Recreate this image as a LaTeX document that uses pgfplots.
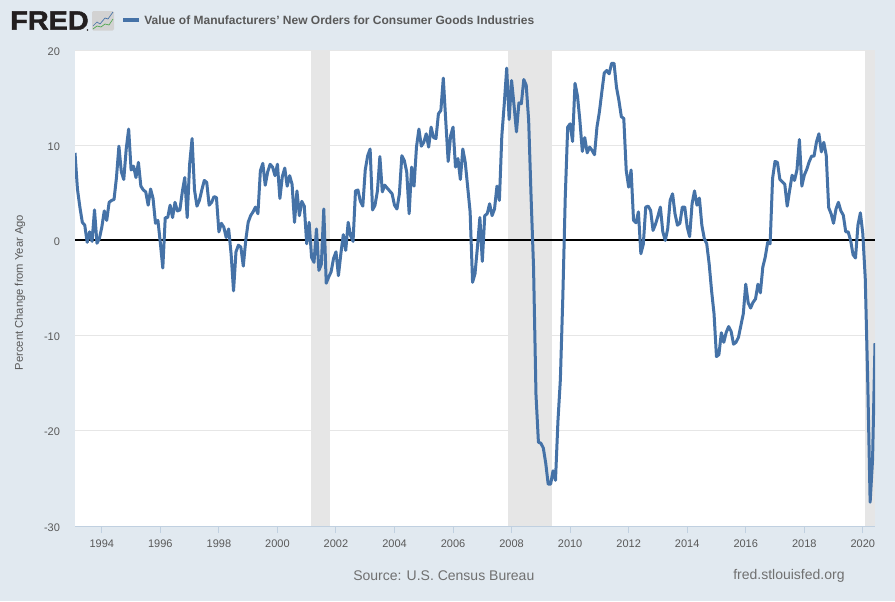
\documentclass[border=0pt]{standalone}
\usepackage{pgfplots}
\pgfplotsset{compat=1.18}
\usepackage{fontspec}
\setmainfont{Liberation Sans}
\newfontfamily\fredlogofont[FakeBold=1.6]{Liberation Sans Bold}
\definecolor{fredbg}{HTML}{E1E9F0}
\definecolor{fredline}{HTML}{4572A7}
\definecolor{fredtext}{HTML}{595959}
\definecolor{fredsrc}{HTML}{707070}
\definecolor{fredaxis}{HTML}{C0D0E0}
\definecolor{fredgrid}{HTML}{E6E6E6}
\definecolor{fredlogo}{HTML}{231F20}
\begin{document}
% 1 unit = 1 pixel of the 895x601 reference, y runs downwards
\begin{tikzpicture}[x=0.75pt,y=-0.75pt]
\fill[fredbg] (0,0) rectangle (895,601);
\coordinate (plotorigin) at (75,526);
\begin{axis}[
  at={(plotorigin)}, anchor=south west,
  scale only axis, width=600pt, height=357pt,
  xmin=0, xmax=328, ymin=-30, ymax=20,
  axis background/.style={fill=white},
  axis lines=left,
  x axis line style={draw=fredaxis,line width=0.75pt,-},
  y axis line style={draw=none},
  tick align=outside, major tick length=5.25pt,
  xtick style={draw=fredaxis,line width=0.75pt},
  ytick style={draw=none},
  xtick={11,35,59,83,107,131,155,179,203,227,251,275,299,323},
  xticklabels={1994,1996,1998,2000,2002,2004,2006,2008,2010,2012,2014,2016,2018,2020},
  ytick={-30,-20,-10,0,10,20},
  yticklabels={-30,-20,-10,0,10,20},
  ymajorgrids, major grid style={draw=fredgrid,line width=0.75pt},
  tick label style={font=\fontsize{8.25}{10}\selectfont,text=fredtext},
  x tick label style={yshift=-1.25pt},
  y tick label style={xshift=-2.5pt,yshift=-0.9pt},
]
% recessions
\addplot[fill=fredgrid,draw=none] coordinates {(96.6,-30)(96.6,20)(104.6,20)(104.6,-30)} --cycle;
\addplot[fill=fredgrid,draw=none] coordinates {(177.6,-30)(177.6,20)(195.6,20)(195.6,-30)} --cycle;
\addplot[fill=fredgrid,draw=none] coordinates {(323.8,-30)(323.8,20)(328,20)(328,-30)} --cycle;
% zero line
\addplot[black,line width=1.6pt] coordinates {(0,0)(328,0)};
% percent change from year ago, month by month from Feb 1993
\addplot[fredline,line width=2.25pt,line join=round] coordinates {
(0,9.2)(1,5.4)(2,3.5)(3,1.9)(4,1.6)(5,-0.2)(6,0.9)(7,-0.1)(8,3.2)(9,-0.3)(10,0.2)(11,1.4)
(12,3.1)(13,2.1)(14,4.0)(15,4.2)(16,4.3)(17,6.6)(18,9.9)(19,7.2)(20,6.4)(21,9.6)(22,11.7)(23,7.4)
(24,7.8)(25,6.6)(26,8.2)(27,5.7)(28,5.3)(29,5.1)(30,3.7)(31,5.4)(32,4.4)(33,1.8)(34,2.1)(35,-0.3)
(36,-2.9)(37,2.4)(38,2.4)(39,3.7)(40,2.4)(41,4.0)(42,3.1)(43,3.2)(44,5.1)(45,6.6)(46,2.4)(47,8.0)
(48,10.7)(49,5.3)(50,3.6)(51,4.2)(52,5.3)(53,6.3)(54,6.1)(55,3.7)(56,4.0)(57,4.6)(58,4.5)(59,0.9)
(60,1.8)(61,1.4)(62,0.3)(63,1.2)(64,-1.4)(65,-5.3)(66,-1.2)(67,-0.5)(68,-0.7)(69,-2.7)(70,0)(71,1.9)
(72,2.6)(73,3.0)(74,3.5)(75,2.8)(76,7.3)(77,8.1)(78,5.8)(79,7.2)(80,8.0)(81,7.7)(82,6.8)(83,8.0)
(84,4.4)(85,6.7)(86,7.6)(87,5.7)(88,6.8)(89,5.9)(90,1.9)(91,5.2)(92,2.6)(93,4.1)(94,3.6)(95,-0.35)
(96,1.9)(97,-1.8)(98,-2.3)(99,1.2)(100,-3.15)(101,-2.5)(102,3.3)(103,-4.5)(104,-3.85)(105,-3.3)(106,-1.9)(107,-1.2)
(108,-3.7)(109,-1.4)(110,0.6)(111,-1.05)(112,1.9)(113,0.5)(114,-0.1)(115,5.2)(116,5.3)(117,4.1)(118,3.6)(119,7.4)
(120,8.9)(121,9.6)(122,3.2)(123,3.7)(124,5.2)(125,8.8)(126,5.1)(127,5.8)(128,5.5)(129,5.2)(130,4.9)(131,3.7)
(132,3.3)(133,4.9)(134,8.9)(135,8.4)(136,7.2)(137,2.8)(138,7.7)(139,5.7)(140,9.8)(141,11.7)(142,9.9)(143,10.3)
(144,11.2)(145,9.8)(146,11.9)(147,10.8)(148,10.7)(149,13.3)(150,13.65)(151,17.05)(152,12.6)(153,8.3)(154,11.0)(155,11.9)
(156,7.7)(157,8.6)(158,6.4)(159,9.6)(160,8.2)(161,5.6)(162,3.0)(163,-4.4)(164,-3.5)(165,-0.7)(166,2.4)(167,-2.2)
(168,2.6)(169,2.8)(170,3.85)(171,2.6)(172,3.3)(173,5.7)(174,4.2)(175,11.0)(176,14.35)(177,18.1)(178,12.7)(179,16.8)
(180,14.2)(181,11.4)(182,14.45)(183,14.35)(184,16.9)(185,16.3)(186,12.6)(187,4.5)(188,-2.8)(189,-16.2)(190,-21.2)(191,-21.3)
(192,-21.8)(193,-23.4)(194,-25.6)(195,-25.6)(196,-24.2)(197,-25.2)(198,-19.0)(199,-14.6)(200,-6.0)(201,4.5)(202,11.9)(203,12.25)
(204,10.4)(205,16.5)(206,15.2)(207,12.6)(208,9.35)(209,10.8)(210,9.2)(211,9.8)(212,9.45)(213,9.0)(214,11.9)(215,13.5)
(216,15.6)(217,17.6)(218,17.85)(219,17.5)(220,18.6)(221,18.6)(222,16.1)(223,14.7)(224,13.0)(225,12.8)(226,7.35)(227,5.6)
(228,7.4)(229,2.1)(230,1.85)(231,3.0)(232,-1.4)(233,-0.4)(234,3.5)(235,3.6)(236,3.15)(237,1.05)(238,1.7)(239,2.55)
(240,3.5)(241,0.9)(242,0)(243,1.2)(244,4.2)(245,4.9)(246,2.8)(247,1.6)(248,1.8)(249,3.5)(250,3.5)(251,1.4)
(252,0.4)(253,3.85)(254,5.2)(255,3.7)(256,4.45)(257,1.6)(258,0.2)(259,-0.35)(260,-2.45)(261,-5.3)(262,-7.7)(263,-12.2)
(264,-12.0)(265,-9.7)(266,-10.7)(267,-9.65)(268,-9.05)(269,-9.55)(270,-10.9)(271,-10.7)(272,-10.2)(273,-8.95)(274,-7.7)(275,-4.6)
(276,-6.55)(277,-7.1)(278,-6.5)(279,-6.15)(280,-4.6)(281,-5.5)(282,-2.8)(283,-1.75)(284,-0.2)(285,-0.35)(286,6.5)(287,8.3)
(288,8.2)(289,6.4)(290,6.15)(291,5.9)(292,3.6)(293,5.25)(294,6.85)(295,6.3)(296,7.4)(297,10.6)(298,5.7)(299,6.85)
(300,7.45)(301,8.25)(302,8.85)(303,8.85)(304,10.35)(305,11.2)(306,9.3)(307,10.3)(308,8.95)(309,3.45)(310,2.8)(311,1.8)
(312,3.3)(313,4.0)(314,3.1)(315,2.65)(316,0.9)(317,0.9)(318,0)(319,-1.5)(320,-1.85)(321,1.6)(322,2.9)(323,0.7)
(324,-4.0)(325,-14.6)(326,-27.5)(327,-23.0)(328,-10.8)
};
\end{axis}
% y axis title
\node[rotate=90,text=fredtext,font=\fontsize{8.4}{10}\selectfont] at (20,292.5) {Percent Change from Year Ago};
% header
\node[anchor=west,inner sep=0pt,text=fredlogo,font=\fredlogofont\fontsize{20}{22}\selectfont,xscale=1.08] at (10,20.5) {FRED};
\fill[fredlogo] (87.5,30) circle (0.8);
\fill[gray!35,rounded corners=1pt] (92,11) rectangle (114,30.5);
\draw[fredline,line width=0.5pt] (93,26) -- (97,22) -- (100,24) -- (105,18) -- (108,19) -- (113,12);
\draw[green!50!black!70,line width=0.5pt] (93,29) -- (97,26) -- (101,27) -- (105,24) -- (109,25) -- (113,19);
\draw[fredline,line width=2.6pt] (123,20) -- (139,20);
\node[anchor=west,inner sep=0pt,text=fredtext,font=\bfseries\fontsize{9}{11}\selectfont] at (144,20) {Value of Manufacturers' New Orders for Consumer Goods Industries};
% footer
\node[anchor=west,inner sep=0pt,text=fredsrc,font=\fontsize{10.5}{12}\selectfont] at (353,576) {Source: U.S. Census Bureau};
\node[anchor=west,inner sep=0pt,text=fredsrc,font=\fontsize{10.5}{12}\selectfont] at (733,576) {fred.stlouisfed.org};
\end{tikzpicture}
\end{document}
